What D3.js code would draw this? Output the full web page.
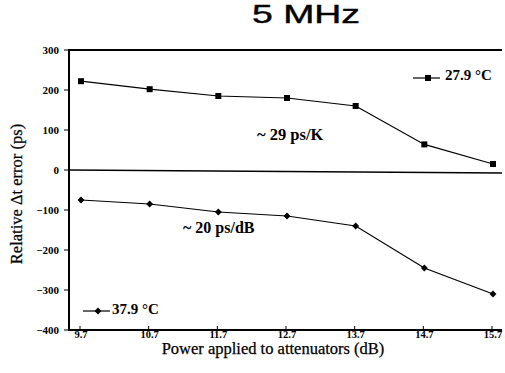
<!DOCTYPE html>
<html>
<head>
<meta charset="utf-8">
<script src="https://cdn.jsdelivr.net/npm/d3@7"></script>
<style>
  body { margin: 0; background: #fff; }
  text { font-family: "Liberation Serif", "Times New Roman", serif; }
</style>
</head>
<body>
<div id="chart"></div>
<script>
// power levels (dB)
const power = [9.7, 10.7, 11.7, 12.7, 13.7, 14.7, 15.7];
// relative delta-t error (ps) at two temperatures
const err279 = [222, 202, 185, 180, 160, 64, 15];
const err379 = [-75, -85, -105, -115, -140, -245, -310];
const yTicks = [300, 200, 100, 0, -100, -200, -300, -400];

const width = 505, height = 373;
const margin = {top: 50, right: 3, bottom: 43, left: 69};

const svg = d3.select("#chart").append("svg")
  .attr("width", width)
  .attr("height", height);

const x = d3.scaleLinear().domain([9.7, 15.7]).range([81, 493]);
const y = d3.scaleLinear().domain([-400, 300]).range([height - margin.bottom, margin.top]);

const x0 = margin.left, x1 = width - margin.right;

// title
svg.append("text")
  .attr("x", 252).attr("y", 23)
  .attr("textLength", 108)
  .attr("lengthAdjust", "spacingAndGlyphs")
  .style("font-family", "'Liberation Sans', Arial, sans-serif")
  .style("font-size", "25px")
  .attr("stroke", "#000").attr("stroke-width", 0.4)
  .text("5 MHz");

// frame lines
svg.append("line").attr("x1", x0).attr("x2", x1).attr("y1", y(300)).attr("y2", y(300))
  .attr("stroke", "#000").attr("stroke-width", 2);
svg.append("line").attr("x1", x0).attr("x2", x1).attr("y1", y(-400)).attr("y2", y(-400))
  .attr("stroke", "#000").attr("stroke-width", 2);
svg.append("line").attr("x1", x0).attr("x2", x1).attr("y1", y(0)).attr("y2", y(0) + 3)
  .attr("stroke", "#000").attr("stroke-width", 1.6);
svg.append("line").attr("x1", x0).attr("x2", x0).attr("y1", y(300) - 1).attr("y2", y(-400) + 1)
  .attr("stroke", "#000").attr("stroke-width", 2);

// y ticks + labels
const yAxis = svg.append("g");
yTicks.forEach(function(t) {
  yAxis.append("line")
    .attr("x1", x0 - 5).attr("x2", x0)
    .attr("y1", y(t)).attr("y2", y(t))
    .attr("stroke", "#000").attr("stroke-width", 1);
  yAxis.append("text")
    .attr("x", x0 - 10).attr("y", y(t) + 3.5)
    .attr("text-anchor", "end")
    .style("font-size", "11px").style("font-weight", "bold")
    .text(t < 0 ? "\u2212" + Math.abs(t) : t);
});

// x ticks + labels
const xAxis = svg.append("g");
power.forEach(function(p) {
  xAxis.append("line")
    .attr("x1", x(p) - 1).attr("x2", x(p) - 1)
    .attr("y1", y(-400)).attr("y2", y(-400) - 4)
    .attr("stroke", "#000").attr("stroke-width", 1);
  xAxis.append("text")
    .attr("x", x(p)).attr("y", 338)
    .attr("text-anchor", "middle")
    .style("font-size", "10.5px").style("font-weight", "bold")
    .text(p.toFixed(1));
});

// axis titles
svg.append("text")
  .attr("x", 273).attr("y", 354)
  .attr("text-anchor", "middle")
  .style("font-size", "16.5px")
  .attr("stroke", "#000").attr("stroke-width", 0.25)
  .text("Power applied to attenuators (dB)");

svg.append("text")
  .attr("transform", "translate(22," + 194 + ") rotate(-90)")
  .attr("text-anchor", "middle")
  .style("font-size", "16.5px")
  .attr("stroke", "#000").attr("stroke-width", 0.25)
  .text("Relative \u0394t error (ps)");

// series
const line = d3.line().x(d => x(d[0])).y(d => y(d[1]));
const s1 = power.map((p, i) => [p, err279[i]]);
const s2 = power.map((p, i) => [p, err379[i]]);

svg.append("path").datum(s1).attr("d", line)
  .attr("fill", "none").attr("stroke", "#000").attr("stroke-width", 1.2);
svg.append("path").datum(s2).attr("d", line)
  .attr("fill", "none").attr("stroke", "#000").attr("stroke-width", 1.2);

const sq = d3.symbol().type(d3.symbolSquare).size(36);
// diamond as a rotated square
const dm = d3.symbol().type(d3.symbolSquare).size(24);

svg.append("g").selectAll("path").data(s1).join("path")
  .attr("d", sq)
  .attr("transform", d => "translate(" + x(d[0]) + "," + y(d[1]) + ")")
  .attr("fill", "#000");
svg.append("g").selectAll("path").data(s2).join("path")
  .attr("d", dm)
  .attr("transform", d => "translate(" + x(d[0]) + "," + y(d[1]) + ") rotate(45)")
  .attr("fill", "#000");

// legends
svg.append("line").attr("x1", 413).attr("x2", 440).attr("y1", 78).attr("y2", 78)
  .attr("stroke", "#000").attr("stroke-width", 1.2);
svg.append("path").attr("d", sq).attr("transform", "translate(428,78)").attr("fill", "#000");
svg.append("text").attr("x", 445).attr("y", 80)
  .style("font-size", "15px").style("font-weight", "bold")
  .text("27.9 \u00B0C");

svg.append("line").attr("x1", 83).attr("x2", 110).attr("y1", 311).attr("y2", 311)
  .attr("stroke", "#000").attr("stroke-width", 1.2);
svg.append("path").attr("d", dm).attr("transform", "translate(98,311) rotate(45)").attr("fill", "#000");
svg.append("text").attr("x", 112).attr("y", 314)
  .style("font-size", "15px").style("font-weight", "bold")
  .text("37.9 \u00B0C");

// slope annotations
svg.append("text").attr("x", 257).attr("y", 140)
  .style("font-size", "16.5px").style("font-weight", "bold")
  .text("~ 29 ps/K");
svg.append("text").attr("x", 183).attr("y", 233)
  .style("font-size", "16px").style("font-weight", "bold")
  .text("~ 20 ps/dB");
</script>
</body>
</html>
